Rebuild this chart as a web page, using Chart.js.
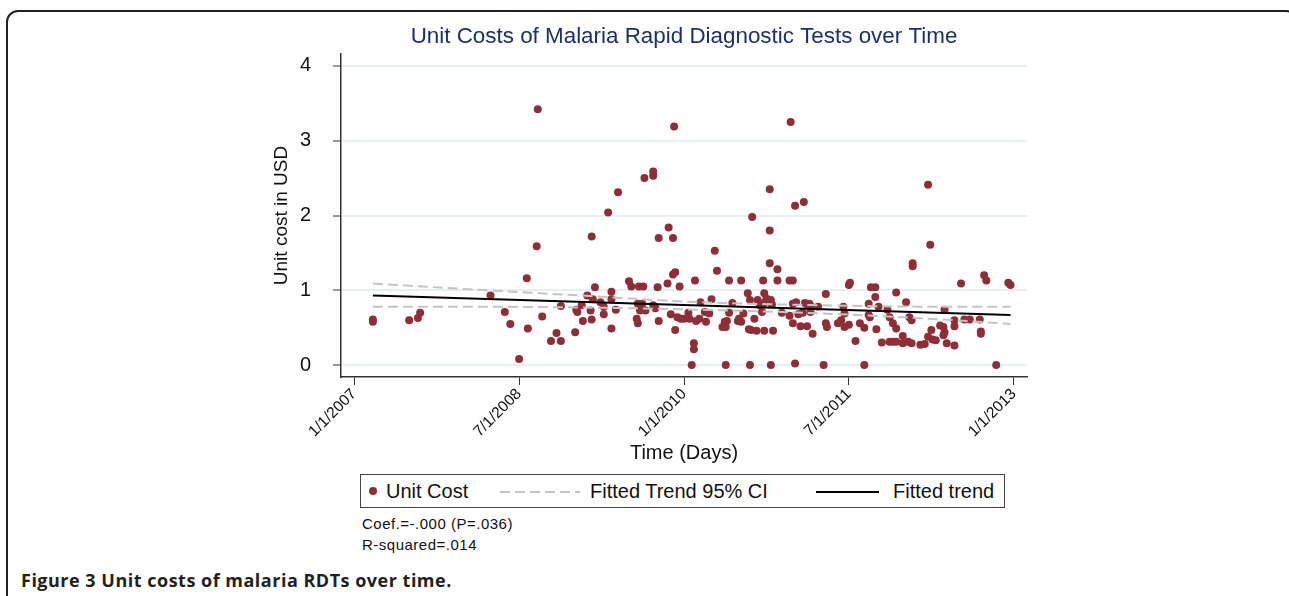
<!DOCTYPE html>
<html>
<head>
<meta charset="utf-8">
<script src="https://cdn.jsdelivr.net/npm/chart.js@4.4.1/dist/chart.umd.min.js"></script>
<style>
  body { margin: 0; background: #fff; width: 1289px; height: 596px; overflow: hidden; position: relative;
         font-family: "Liberation Sans", Arial, sans-serif; color: #111; }
  #frame { position: absolute; left: 6px; top: 10px; width: 1292px; height: 640px; border: 2px solid #222;
           border-radius: 12px; box-sizing: border-box; }
  #chartBox { position: absolute; left: 260px; top: 20px; width: 790px; height: 450px; }
  #legend { position: absolute; left: 360px; top: 474px; width: 645px; height: 34px; border: 1px solid #444;
            box-sizing: border-box; font-size: 20px; }
  #legend .lbl { position: absolute; top: 5px; white-space: nowrap; }
  #legend .dot { position: absolute; left: 8px; top: 12px; width: 8px; height: 8px; border-radius: 50%; background: #8e2e37; }
  #legend svg { position: absolute; top: 15px; }
  .note { position: absolute; left: 362px; font-size: 15px; letter-spacing: 0.5px; white-space: nowrap; }
  #caption { position: absolute; left: 21px; top: 568px; font-family: "Open Sans", sans-serif; font-weight: bold;
             font-size: 18px; letter-spacing: 0.5px; color: #231f20; white-space: nowrap; }
</style>
</head>
<body>
<div id="frame"></div>
<div id="chartBox"><canvas id="costChart"></canvas></div>
<div id="legend">
  <span class="dot"></span><span class="lbl" style="left:25px">Unit Cost</span>
  <svg width="80" height="4" style="left:139px"><line x1="0" y1="2" x2="80" y2="2" stroke="#c4c4c4" stroke-width="2" stroke-dasharray="10 5"/></svg>
  <span class="lbl" style="left:229px">Fitted Trend 95% CI</span>
  <svg width="63" height="4" style="left:455px"><line x1="0" y1="2" x2="63" y2="2" stroke="#000" stroke-width="2"/></svg>
  <span class="lbl" style="left:532px">Fitted trend</span>
</div>
<div class="note" style="top:515px">Coef.=-.000 (P=.036)</div>
<div class="note" style="top:536px">R-squared=.014</div>
<div id="caption">Figure 3 Unit costs of malaria RDTs over time.</div>
<script>
// time as decimal years, cost in USD
const obsYear = [
  2007.17, 2007.17, 2007.50, 2007.58, 2007.60, 2008.24, 2008.37, 2008.42, 2008.50, 2008.57,
  2008.58, 2008.66, 2008.67, 2008.71, 2008.79, 2008.84, 2008.88, 2008.88, 2009.01, 2009.02,
  2009.03, 2009.07, 2009.08, 2009.12, 2009.15, 2009.16, 2009.16, 2009.17, 2009.19, 2009.24,
  2009.27, 2009.27, 2009.31, 2009.34, 2009.34, 2009.34, 2009.38, 2009.40, 2009.50, 2009.52,
  2009.57, 2009.58, 2009.58, 2009.59, 2009.63, 2009.60, 2009.65, 2009.62, 2009.64, 2009.72,
  2009.72, 2009.72, 2009.74, 2009.76, 2009.77, 2009.77, 2009.85, 2009.86, 2009.90, 2009.90,
  2009.92, 2009.88, 2009.92, 2009.91, 2009.94, 2009.96, 2009.97, 2010.00, 2010.04, 2010.05,
  2010.07, 2010.09, 2010.09, 2010.10, 2010.11, 2010.14, 2010.15, 2010.19, 2010.20, 2010.23,
  2010.25, 2010.28, 2010.30, 2010.35, 2010.37, 2010.38, 2010.38, 2010.39, 2010.41, 2010.41,
  2010.44, 2010.49, 2010.50, 2010.52, 2010.52, 2010.54, 2010.58, 2010.60, 2010.59, 2010.60,
  2010.61, 2010.62, 2010.64, 2010.66, 2010.67, 2010.69, 2010.71, 2010.72, 2010.73, 2010.73,
  2010.73, 2010.75, 2010.78, 2010.78, 2010.78, 2010.79, 2010.79, 2010.80, 2010.81, 2010.85,
  2010.85, 2010.89, 2010.96, 2010.96, 2010.97, 2010.99, 2010.99, 2010.99, 2011.01, 2011.01,
  2011.02, 2011.04, 2011.06, 2011.08, 2011.09, 2011.10, 2011.12, 2011.12, 2011.14, 2011.15,
  2011.16, 2011.17, 2011.22, 2011.27, 2011.29, 2011.29, 2011.30, 2011.40, 2011.43, 2011.45,
  2011.46, 2011.46, 2011.50, 2011.50, 2011.51, 2011.56, 2011.60, 2011.64, 2011.64, 2011.68,
  2011.68, 2011.69, 2011.70, 2011.74, 2011.74, 2011.75, 2011.77, 2011.80, 2011.85, 2011.87,
  2011.87, 2011.90, 2011.90, 2011.93, 2011.93, 2011.93, 2011.99, 2011.99, 2012.02, 2012.04,
  2012.05, 2012.07, 2012.07, 2012.08, 2012.08, 2012.15, 2012.19, 2012.22, 2012.22, 2012.24,
  2012.25, 2012.26, 2012.29, 2012.33, 2012.36, 2012.36, 2012.37, 2012.37, 2012.39, 2012.46,
  2012.46, 2012.46, 2012.52, 2012.55, 2012.60, 2012.69, 2012.70, 2012.70, 2012.73, 2012.75,
  2012.84, 2012.95, 2012.97
];
const unitCost = [
  0.61, 0.58, 0.60, 0.63, 0.70, 0.93, 0.71, 0.55, 0.08, 1.16,
  0.49, 1.59, 3.42, 0.65, 0.32, 0.43, 0.32, 0.79, 0.44, 0.74,
  0.71, 0.80, 0.59, 0.93, 0.73, 1.72, 0.61, 0.88, 1.04, 0.84,
  0.68, 0.78, 2.04, 0.98, 0.88, 0.49, 0.74, 2.31, 1.12, 1.05,
  0.62, 0.56, 0.82, 1.05, 1.05, 0.73, 0.73, 0.82, 2.50, 2.59,
  2.53, 0.80, 0.76, 1.04, 1.70, 0.59, 1.09, 1.84, 1.70, 1.21,
  1.24, 0.68, 0.47, 3.19, 0.64, 1.05, 0.62, 0.62, 0.70, 0.62,
  0.00, 0.29, 0.21, 1.13, 0.59, 0.62, 0.84, 0.71, 0.58, 0.69,
  0.88, 1.53, 1.26, 0.51, 0.58, 0.51, 0.00, 0.59, 1.13, 0.70,
  0.83, 0.59, 0.62, 0.58, 1.13, 0.69, 0.96, 0.87, 0.48, 0.00,
  0.47, 1.98, 0.62, 0.46, 0.87, 0.80, 0.71, 1.13, 0.83, 0.96,
  0.46, 0.89, 1.36, 1.80, 2.35, 0.87, 0.00, 0.81, 0.46, 1.28,
  1.13, 0.70, 1.13, 0.66, 3.25, 1.13, 0.56, 0.82, 0.02, 2.13,
  0.84, 0.68, 0.52, 0.70, 2.18, 0.83, 0.81, 0.52, 0.82, 0.71,
  0.78, 0.42, 0.78, 0.00, 0.95, 0.56, 0.51, 0.56, 0.60, 0.78,
  0.69, 0.51, 0.54, 1.07, 1.10, 0.32, 0.56, 0.50, 0.00, 0.82,
  0.67, 0.64, 1.04, 1.04, 0.91, 0.48, 0.78, 0.30, 0.74, 0.31,
  0.64, 0.31, 0.56, 0.31, 0.49, 0.97, 0.39, 0.29, 0.84, 0.31,
  0.64, 0.29, 0.60, 1.36, 1.32, 0.27, 0.28, 0.38, 2.41, 1.61,
  0.47, 0.34, 0.33, 0.53, 0.51, 0.40, 0.44, 0.74, 0.29, 0.26,
  0.60, 0.52, 1.09, 0.61, 0.61, 0.61, 0.45, 0.42, 1.20, 1.13,
  0.00, 1.10, 1.07
];

const fitYear = [2007.17, 2012.97];
const fitCost = [0.93, 0.67];

const ciYear = [2007.17, 2007.97, 2009.06, 2010.15, 2011.25, 2012.34, 2012.97];
const ciUpper = [1.09, 1.02, 0.93, 0.84, 0.80, 0.78, 0.78];
const ciLower = [0.78, 0.78, 0.77, 0.74, 0.69, 0.61, 0.55];

const xTickYears = [2007, 2008.5, 2010, 2011.5, 2013];
const xTickLabels = ['1/1/2007', '7/1/2008', '1/1/2010', '7/1/2011', '1/1/2013'];
const yTicks = [0, 1, 2, 3, 4];

const toPoints = (xs, ys) => xs.map((x, i) => ({x: x, y: ys[i]}));

const ctx = document.getElementById('costChart').getContext('2d');
new Chart(ctx, {
    type: 'scatter',
    data: {
        datasets: [
            {
                label: 'Fitted trend',
                data: toPoints(fitYear, fitCost),
                showLine: true,
                borderColor: '#000',
                borderWidth: 2,
                pointRadius: 0,
                order: 0
            },
            {
                label: 'Fitted Trend 95% CI',
                data: toPoints(ciYear, ciUpper),
                showLine: true,
                borderColor: '#c4c4c4',
                borderWidth: 2,
                borderDash: [10, 5],
                cubicInterpolationMode: 'monotone',
                pointRadius: 0,
                order: 1
            },
            {
                label: 'Fitted Trend 95% CI lower',
                data: toPoints(ciYear, ciLower),
                showLine: true,
                borderColor: '#c4c4c4',
                borderWidth: 2,
                borderDash: [10, 5],
                cubicInterpolationMode: 'monotone',
                pointRadius: 0,
                order: 1
            },
            {
                label: 'Unit Cost',
                data: toPoints(obsYear, unitCost),
                backgroundColor: '#8e2e37',
                borderWidth: 0,
                pointRadius: 4,
                order: 2
            }
        ]
    },
    options: {
        responsive: true,
        maintainAspectRatio: false,
        animation: false,
        events: [],
        layout: { padding: { left: 0, right: 23, top: 0, bottom: 0 } },
        plugins: {
            legend: { display: false },
            tooltip: { enabled: false },
            title: {
                display: true,
                text: 'Unit Costs of Malaria Rapid Diagnostic Tests over Time',
                fullSize: false,
                color: '#1c3166',
                font: { family: '"Liberation Sans", Arial, sans-serif', size: 22.4, weight: 'normal' },
                padding: { top: 3, bottom: 4 }
            }
        },
        scales: {
            x: {
                type: 'linear',
                min: 2006.88,
                max: 2013.12,
                afterFit: (scale) => { scale.height = 93; },
                afterBuildTicks: (scale) => { scale.ticks = xTickYears.map(v => ({value: v})); },
                border: { color: '#333', width: 1.5 },
                grid: { drawOnChartArea: false, drawTicks: true, tickLength: 8, tickColor: '#333', tickWidth: 1 },
                ticks: {
                    autoSkip: false,
                    minRotation: 45,
                    maxRotation: 45,
                    padding: 0,
                    color: '#111',
                    font: { family: '"Liberation Sans", Arial, sans-serif', size: 15.5 },
                    callback: (value, index) => xTickLabels[index]
                },
                title: {
                    display: true,
                    text: 'Time (Days)',
                    color: '#111',
                    font: { family: '"Liberation Sans", Arial, sans-serif', size: 20 },
                    padding: { top: 0, bottom: 5 }
                }
            },
            y: {
                min: -0.16,
                max: 4.16,
                afterFit: (scale) => { scale.width = 81; },
                afterBuildTicks: (scale) => { scale.ticks = yTicks.map(v => ({value: v})); },
                border: { color: '#333', width: 1.5 },
                grid: { color: '#e6eff2', lineWidth: 2, tickLength: 8, tickColor: '#333', tickWidth: 1 },
                ticks: {
                    padding: 22,
                    color: '#111',
                    font: { family: '"Liberation Sans", Arial, sans-serif', size: 20 }
                },
                title: {
                    display: true,
                    text: 'Unit cost in USD',
                    color: '#111',
                    font: { family: '"Liberation Sans", Arial, sans-serif', size: 19 },
                    padding: { top: 10, bottom: 0 }
                }
            }
        }
    }
});
</script>
</body>
</html>
